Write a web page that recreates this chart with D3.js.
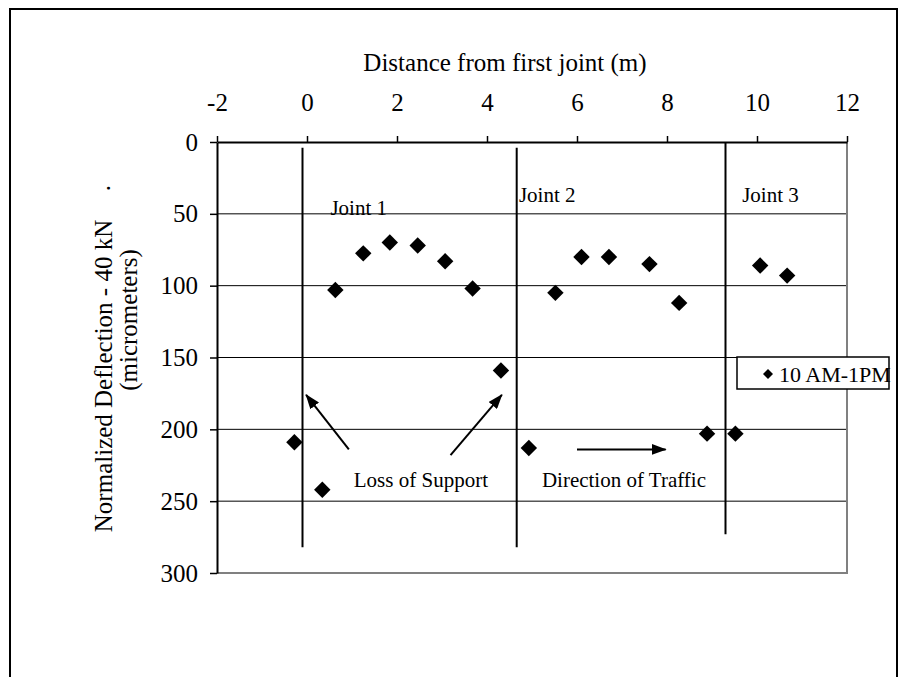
<!DOCTYPE html>
<html>
<head>
<meta charset="utf-8">
<script src="https://cdn.jsdelivr.net/npm/d3@7"></script>
<style>
  body { margin: 0; background: #fff; }
  svg text { font-family: "Liberation Serif", "Times New Roman", serif; fill: #000; }
</style>
</head>
<body>
<div id="chart"></div>
<script>
// deflection readings, 10 AM - 1PM
const distance   = [-0.28, 0.34, 0.63, 1.25, 1.84, 2.46, 3.07, 3.68, 4.31, 4.93, 5.52, 6.10, 6.71, 7.61, 8.27, 8.89, 9.52, 10.07, 10.67];
const deflection = [209, 242, 103, 77.5, 70, 72, 83, 102, 159, 213, 105, 80, 80, 85, 112, 203, 203, 86, 93];

const xTicks = [-2, 0, 2, 4, 6, 8, 10, 12];
const yTicks = [0, 50, 100, 150, 200, 250, 300];

// joints (distance, depth range in micrometers)
const jointNames  = ["Joint 1", "Joint 2", "Joint 3"];
const jointAt     = [-0.1, 4.66, 9.3];
const jointTop    = [4, 4, 0];
const jointBottom = [282, 282, 273];
const jointLabelX = [0.52, 4.71, 9.67];
const jointLabelY = [51, 42, 42];

// annotations, in data units
const noteText = ["Loss of Support", "Direction of Traffic"];
const noteX    = [1.04, 5.22];
const noteY    = [240, 240];
const arrowFrom = [[0.93, 214], [3.19, 218], [6.0, 214]];
const arrowTo   = [[-0.02, 176], [4.33, 176], [7.97, 214]];

const seriesName = "10 AM-1PM";

const W = 909, H = 677;
const plotL = 217, plotR = 847, plotT = 142, plotB = 573;

const svg = d3.select("#chart").append("svg")
  .attr("width", W)
  .attr("height", H);

// outer frame
svg.append("rect")
  .attr("x", 10).attr("y", 9)
  .attr("width", 887).attr("height", 700)
  .attr("fill", "none")
  .attr("stroke", "#000")
  .attr("stroke-width", 2);

const x = d3.scaleLinear().domain([-2, 12]).range([plotL, plotR]);
const y = d3.scaleLinear().domain([0, 300]).range([plotT, plotB]);

// gridlines
svg.append("g").selectAll("line")
  .data(yTicks.filter(d => d > 0 && d < 300))
  .enter().append("line")
  .attr("x1", plotL).attr("x2", plotR)
  .attr("y1", d => y(d)).attr("y2", d => y(d))
  .attr("stroke", "#000")
  .attr("stroke-width", 1);

// plot border (right / bottom)
svg.append("path")
  .attr("d", `M${plotR},${plotT}V${plotB}H${plotL}`)
  .attr("fill", "none")
  .attr("stroke", "#808080")
  .attr("stroke-width", 2);

// joint lines
svg.append("g").selectAll("line")
  .data(jointAt)
  .enter().append("line")
  .attr("x1", d => x(d)).attr("x2", d => x(d))
  .attr("y1", (d, i) => y(jointTop[i]))
  .attr("y2", (d, i) => y(jointBottom[i]))
  .attr("stroke", "#000")
  .attr("stroke-width", 2);

svg.append("g").selectAll("text")
  .data(jointNames)
  .enter().append("text")
  .attr("x", (d, i) => x(jointLabelX[i]))
  .attr("y", (d, i) => y(jointLabelY[i]))
  .attr("font-size", "21px")
  .text(d => d);

// axes
const xAxis = d3.axisTop(x)
  .tickValues(xTicks)
  .tickFormat(d => String(d))
  .tickSize(6)
  .tickSizeOuter(0)
  .tickPadding(25);

const gx = svg.append("g")
  .attr("transform", `translate(0,${plotT})`)
  .call(xAxis);

const yAxis = d3.axisLeft(y)
  .tickValues(yTicks)
  .tickFormat(d => String(d))
  .tickSize(7)
  .tickSizeOuter(0)
  .tickPadding(12);

const gy = svg.append("g")
  .attr("transform", `translate(${plotL},0)`)
  .call(yAxis);

[gx, gy].forEach(g => {
  g.select(".domain").attr("stroke", "#000").attr("stroke-width", 2);
  g.selectAll(".tick line").attr("stroke", "#000").attr("stroke-width", 1.5);
  g.selectAll(".tick text")
    .attr("font-family", "Liberation Serif, serif")
    .attr("font-size", "25px")
    .attr("fill", "#000");
});

// axis titles
svg.append("text")
  .attr("x", 505).attr("y", 71)
  .attr("text-anchor", "middle")
  .attr("font-size", "25px")
  .text("Distance from first joint (m)");

svg.append("text")
  .attr("transform", "translate(112,376) rotate(-90)")
  .attr("text-anchor", "middle")
  .attr("font-size", "25px")
  .text("Normalized Deflection - 40 kN");

svg.append("text")
  .attr("transform", "translate(110,188) rotate(-90)")
  .attr("text-anchor", "middle")
  .attr("font-size", "25px")
  .text(".");

svg.append("text")
  .attr("transform", "translate(137,320) rotate(-90)")
  .attr("text-anchor", "middle")
  .attr("font-size", "25px")
  .text("(micrometers)");

// arrows
svg.append("defs").append("marker")
  .attr("id", "head")
  .attr("viewBox", "0 0 15 11")
  .attr("refX", 14).attr("refY", 5.5)
  .attr("markerWidth", 15).attr("markerHeight", 11)
  .attr("markerUnits", "userSpaceOnUse")
  .attr("orient", "auto")
  .append("path")
  .attr("d", "M0,0L15,5.5L0,11z")
  .attr("fill", "#000");

svg.append("g").selectAll("line")
  .data(arrowFrom)
  .enter().append("line")
  .attr("x1", d => x(d[0])).attr("y1", d => y(d[1]))
  .attr("x2", (d, i) => x(arrowTo[i][0])).attr("y2", (d, i) => y(arrowTo[i][1]))
  .attr("stroke", "#000")
  .attr("stroke-width", 2)
  .attr("marker-end", "url(#head)");

svg.append("g").selectAll("text")
  .data(noteText)
  .enter().append("text")
  .attr("x", (d, i) => x(noteX[i]))
  .attr("y", (d, i) => y(noteY[i]))
  .attr("font-size", "21px")
  .text(d => d);

// points
const diamond = d3.symbol().type(d3.symbolSquare).size(135);

svg.append("g").selectAll("path")
  .data(distance)
  .enter().append("path")
  .attr("d", diamond)
  .attr("transform", (d, i) => `translate(${x(d)},${y(deflection[i])}) rotate(45)`)
  .attr("fill", "#000");

// legend
const legend = svg.append("g").attr("transform", "translate(737,357)");
legend.append("rect")
  .attr("width", 152).attr("height", 32)
  .attr("fill", "#fff")
  .attr("stroke", "#000")
  .attr("stroke-width", 1.5);
legend.append("path")
  .attr("d", d3.symbol().type(d3.symbolSquare).size(50))
  .attr("transform", "translate(31,17) rotate(45)")
  .attr("fill", "#000");
legend.append("text")
  .attr("x", 42).attr("y", 25)
  .attr("font-size", "22px")
  .text(seriesName);
</script>
</body>
</html>
